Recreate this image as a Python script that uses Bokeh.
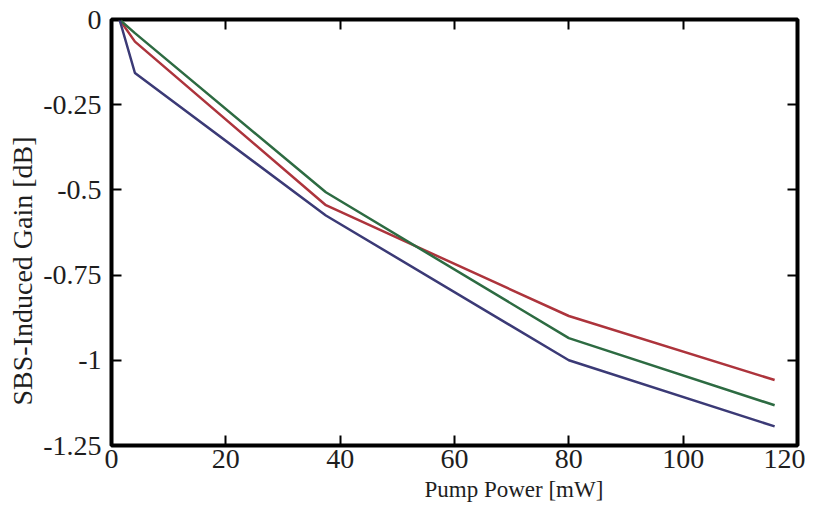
from bokeh.plotting import figure
from bokeh.models import Range1d, LinearAxis, FixedTicker, Title
from bokeh.embed import file_html
from bokeh.resources import INLINE

# Data
power = [1.4, 4.1, 37.5, 80, 116]
gain_red = [0.0, -0.065, -0.545, -0.87, -1.058]
gain_green = [0.0, -0.04, -0.507, -0.935, -1.132]
gain_blue = [0.0, -0.157, -0.575, -1.0, -1.194]

x_ticks = [0, 20, 40, 60, 80, 100, 120]
y_ticks = [0, -0.25, -0.5, -0.75, -1, -1.25]
y_tick_labels = {0: "0", -0.25: "-0.25", -0.5: "-0.5", -0.75: "-0.75", -1: "-1", -1.25: "-1.25"}
x_label = "Pump Power [mW]"
y_label = "SBS-Induced Gain [dB]"

FONT = "Liberation Serif"

p = figure(width=805, height=505, output_backend="svg", toolbar_location=None,
           x_range=Range1d(0, 120), y_range=Range1d(-1.25, 0),
           min_border_left=111, min_border_right=8, min_border_top=19, min_border_bottom=60)

p.grid.visible = False
p.outline_line_color = "black"
p.outline_line_width = 4
p.background_fill_color = "white"
p.border_fill_color = "white"

p.line(power, gain_red, line_color="#ad343c", line_width=2.5)
p.line(power, gain_green, line_color="#2d6b42", line_width=2.5)
p.line(power, gain_blue, line_color="#3b3a76", line_width=2.5)

for ax in p.xaxis:
    ax.ticker = FixedTicker(ticks=x_ticks)
    ax.major_label_text_font_size = "28px"
    ax.major_label_standoff = 4
for ax in p.yaxis:
    ax.ticker = FixedTicker(ticks=y_ticks)
    ax.major_label_overrides = y_tick_labels
    ax.major_label_text_font_size = "28px"
    ax.major_label_standoff = 10

for ax in p.xaxis + p.yaxis:
    ax.axis_line_color = None
    ax.major_tick_in = 10
    ax.major_tick_out = 0
    ax.major_tick_line_width = 2
    ax.major_tick_line_color = "black"
    ax.minor_tick_line_color = None
    ax.major_label_text_font = FONT
    ax.major_label_text_color = "#1e1e1e"

top = LinearAxis(ticker=FixedTicker(ticks=x_ticks),
                 major_label_overrides={t: "" for t in x_ticks},
                 axis_line_color=None, major_tick_in=10, major_tick_out=0,
                 major_tick_line_width=2, minor_tick_line_color=None, major_label_standoff=0)
right = LinearAxis(ticker=FixedTicker(ticks=y_ticks),
                   major_label_overrides={t: "" for t in y_ticks},
                   axis_line_color=None, major_tick_in=10, major_tick_out=0,
                   major_tick_line_width=2, minor_tick_line_color=None, major_label_standoff=0)
p.add_layout(top, "above")
p.add_layout(right, "right")

xt = Title(text=x_label, align="left", offset=313, text_font=FONT, text_font_size="23px",
           text_font_style="normal", text_color="#1e1e1e", standoff=8)
yt = Title(text=y_label, align="left", offset=40, text_font=FONT, text_font_size="28px",
           text_font_style="normal", text_color="#1e1e1e", standoff=6)
p.add_layout(xt, "below")
p.add_layout(yt, "left")

open("out.html", "w").write(file_html(p, INLINE))
